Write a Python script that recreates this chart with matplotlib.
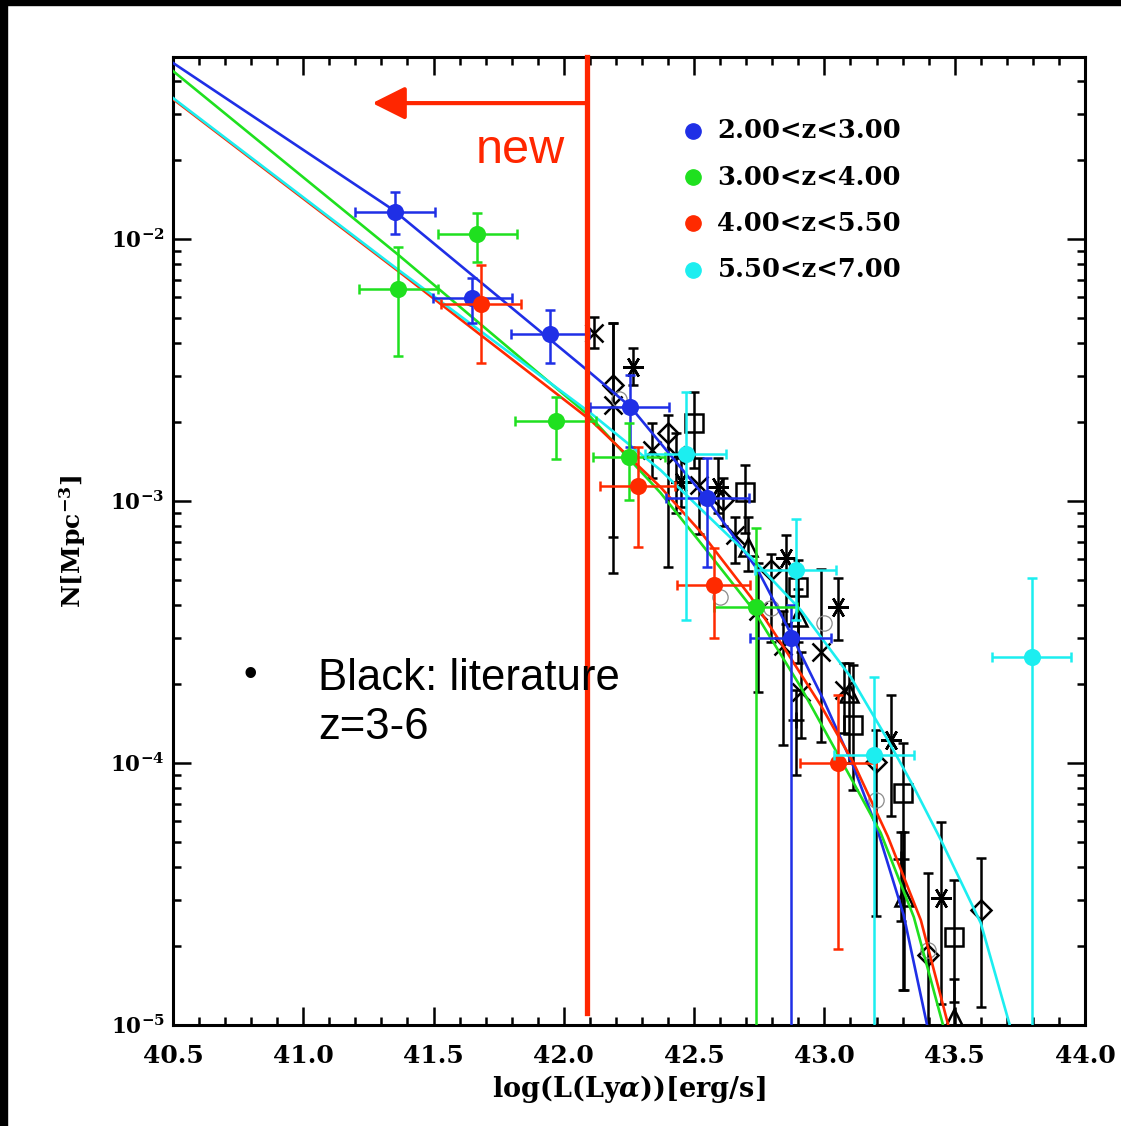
import numpy as np
import matplotlib
matplotlib.use("Agg")
import matplotlib.pyplot as plt
from matplotlib.patches import Rectangle
from matplotlib.ticker import FixedLocator, LogLocator, NullFormatter, FuncFormatter

plt.rcParams['font.family'] = ['DejaVu Serif']
plt.rcParams['font.weight'] = 'bold'
plt.rcParams['mathtext.fontset'] = 'custom'
plt.rcParams['mathtext.rm'] = 'DejaVu Serif:bold'
plt.rcParams['mathtext.it'] = 'DejaVu Serif:italic:bold'
plt.rcParams['mathtext.bf'] = 'DejaVu Serif:bold'

# ---- redshift bins (legend) ----
bin_labels = ['2.00<z<3.00', '3.00<z<4.00', '4.00<z<5.50', '5.50<z<7.00']
bin_colors = ['#1f2fe6', '#1fe01f', '#ff2a00', '#1ceef0']

# ---- new measurements per bin: log L, N, half width in log L, N low, N high ----
blue_x = [41.353, 41.649, 41.948, 42.252, 42.551, 42.870]
blue_n = [0.01267, 0.00596, 0.00433, 0.00229, 0.00103, 0.00030]
blue_xerr = [0.154, 0.152, 0.150, 0.150, 0.160, 0.155]
blue_lo = [0.01045, 0.00478, 0.00336, 0.00161, 0.00056, 1e-6]
blue_hi = [0.0151, 0.0071, 0.00536, 0.00303, 0.00146, 0.00040]

green_x = [41.364, 41.668, 41.968, 42.250, 42.736]
green_n = [0.00644, 0.01045, 0.00202, 0.00147, 0.000394]
green_xerr = [0.152, 0.152, 0.157, 0.140, 0.160]
green_lo = [0.00357, 0.00817, 0.001445, 0.00101, 1e-6]
green_hi = [0.00931, 0.01256, 0.00249, 0.00199, 0.000788]

red_x = [41.683, 42.283, 42.575, 43.051]
red_n = [0.00565, 0.00114, 0.000478, 0.0001]
red_xerr = [0.153, 0.144, 0.140, 0.145]
red_lo = [0.00336, 0.000667, 0.0003, 1.95e-5]
red_hi = [0.00796, 0.00161, 0.000662, 0.000182]

cyan_x = [42.467, 42.890, 43.190, 43.796]
cyan_n = [0.00151, 0.000546, 0.000107, 0.000254]
cyan_xerr = [0.154, 0.155, 0.155, 0.152]
cyan_lo = [0.000351, 0.00035, 1e-6, 1e-6]
cyan_hi = [0.0026, 0.000853, 0.000213, 0.000508]

# ---- fitted luminosity functions (log L, log N) ----
blue_fit_x = [40.50, 41.345, 42.102, 42.256, 42.551, 42.744, 42.870, 42.997, 43.112, 43.205, 43.304, 43.393]
blue_fit_logn = [-1.328, -1.889, -2.511, -2.641, -2.996, -3.263, -3.504, -3.760, -4.015, -4.260, -4.580, -4.996]

green_fit_x = [40.50, 41.364, 42.102, 42.371, 42.525, 42.728, 42.909, 43.112, 43.216, 43.343, 43.454]
green_fit_logn = [-1.359, -2.060, -2.679, -2.969, -3.160, -3.416, -3.710, -4.076, -4.267, -4.588, -4.996]

red_fit_x = [40.50, 41.361, 42.102, 42.371, 42.525, 42.717, 42.843, 42.986, 43.112, 43.243, 43.370, 43.474]
red_fit_logn = [-1.466, -2.120, -2.691, -2.947, -3.118, -3.366, -3.557, -3.780, -4.000, -4.280, -4.600, -4.996]

cyan_fit_x = [40.50, 41.361, 42.102, 42.371, 42.525, 42.717, 42.909, 43.101, 43.243, 43.343, 43.447, 43.600, 43.710]
cyan_fit_logn = [-1.462, -2.115, -2.664, -2.882, -3.030, -3.214, -3.416, -3.672, -3.912, -4.092, -4.294, -4.611, -4.996]

# ---- literature points (black), by symbol: log L, N, N low, N high ----
lit_x_x = [42.114, 42.187, 42.340, 42.429, 42.517, 42.655, 42.744, 42.840, 42.909, 42.986, 43.074]
lit_x_n = [0.00437, 0.00232, 0.00157, 0.00150, 0.00115, 0.00074, 0.00038, 0.00028, 0.000187, 0.000265, 0.00019]
lit_x_lo = [0.00384, 0.000531, 0.00122, 0.00090, 0.00075, 0.00058, 0.000187, 0.000117, 0.000125, 0.00012, 0.00013]
lit_x_hi = [0.00503, 0.00478, 0.00199, 0.00182, 0.00146, 0.00087, 0.00058, 0.00038, 0.000265, 0.00055, 0.00024]

lit_ast_x = [42.267, 42.448, 42.590, 42.851, 43.051, 43.255, 43.447]
lit_ast_n = [0.00325, 0.00118, 0.00113, 0.000606, 0.000394, 0.000122, 3.05e-5]
lit_ast_lo = [0.00277, 0.00095, 0.0009, 0.00034, 0.000294, 6.3e-5, 1.2e-5]
lit_ast_hi = [0.00384, 0.00146, 0.00146, 0.00074, 0.000508, 0.000182, 5.96e-5]

lit_dia_x = [42.190, 42.398, 42.609, 42.794, 43.197, 43.397, 43.600]
lit_dia_n = [0.00277, 0.00182, 0.00101, 0.000546, 0.000101, 1.85e-5, 2.75e-5]
lit_dia_lo = [0.00073, 0.00056, 0.0008, 0.00029, 2.61e-5, 1e-6, 1.17e-5]
lit_dia_hi = [0.00478, 0.00213, 0.00122, 0.00063, 0.000134, 3.8e-5, 4.34e-5]

lit_sq_x = [42.498, 42.697, 42.897, 43.109, 43.301, 43.497]
lit_sq_n = [0.00199, 0.00108, 0.00047, 0.00014, 7.7e-5, 2.17e-5]
lit_sq_lo = [0.00134, 0.000755, 0.00029, 7.9e-5, 1.36e-5, 1.22e-5]
lit_sq_hi = [0.00261, 0.00137, 0.000596, 0.000237, 0.000119, 3.57e-5]

lit_tri_x = [42.705, 42.897, 43.093, 43.304, 43.497]
lit_tri_n = [0.000667, 0.000361, 0.000185, 3.08e-5, 1.06e-5]
lit_tri_lo = [0.00054, 0.00024, 0.0001, 1.36e-5, 1e-6]
lit_tri_hi = [0.00087, 0.00046, 0.00024, 5.45e-5, 1.5e-5]

lit_plus_x = [42.890, 43.293]
lit_plus_n = [0.000146, 4.3e-5]
lit_plus_lo = [9e-5, 2.5e-5]
lit_plus_hi = [0.00019, 5.45e-5]

lit_circ_x = [42.213, 42.601, 42.794, 42.997, 43.197, 43.397]
lit_circ_n = [0.00245, 0.00043, 0.00039, 0.000342, 7.2e-5, 1.93e-5]

# annotation values
new_limit = 42.09
arrow_tip = 41.265
arrow_level = 0.033
x_ticks = [40.5, 41.0, 41.5, 42.0, 42.5, 43.0, 43.5, 44.0]


def draw_points(ax, x, n, lo, hi, color, xerr=None, marker='o', ms=10, mfc=None, zorder=4):
    n = np.array(n)
    yerr = [n - np.array(lo), np.array(hi) - n]
    ax.errorbar(x, n, yerr=yerr, xerr=xerr, fmt='none', ecolor=color,
                elinewidth=1.8, capsize=3.5, capthick=1.8, zorder=zorder)
    ax.plot(x, n, linestyle='none', marker=marker, ms=ms, color=color,
            mfc=color if mfc is None else mfc, mec=color, mew=1.8, zorder=zorder)


fig = plt.figure(figsize=(11.21, 11.26), dpi=100)
ax = fig.add_axes([0.1543, 0.0897, 0.8136, 0.8597])
ax.set_yscale('log')
ax.set_xlim(40.5, 44.0)
ax.set_ylim(1e-5, 0.0495)

# literature
lit_black = 'black'
draw_points(ax, lit_x_x, lit_x_n, lit_x_lo, lit_x_hi, lit_black, marker='x', ms=13, zorder=3)
draw_points(ax, lit_ast_x, lit_ast_n, lit_ast_lo, lit_ast_hi, lit_black, marker=(6, 2, 90), ms=15, zorder=3)
draw_points(ax, lit_dia_x, lit_dia_n, lit_dia_lo, lit_dia_hi, lit_black, marker='D', ms=10, mfc='none', zorder=3)
draw_points(ax, lit_sq_x, lit_sq_n, lit_sq_lo, lit_sq_hi, lit_black, marker='s', ms=13, mfc='none', zorder=3)
draw_points(ax, lit_tri_x, lit_tri_n, lit_tri_lo, lit_tri_hi, lit_black, marker='^', ms=13, mfc='none', zorder=3)
draw_points(ax, lit_plus_x, lit_plus_n, lit_plus_lo, lit_plus_hi, lit_black, marker='+', ms=12, zorder=3)
ax.plot(lit_circ_x, lit_circ_n, 'o', ms=11, mfc='none', mec='#8a8a8a', mew=0.9, zorder=3)

# fits
fits = [(blue_fit_x, blue_fit_logn), (green_fit_x, green_fit_logn),
        (red_fit_x, red_fit_logn), (cyan_fit_x, cyan_fit_logn)]
for (fx, fl), c in zip(fits, bin_colors):
    ax.plot(fx, 10 ** np.array(fl), color=c, lw=1.9, zorder=5)

# new data
series = [(blue_x, blue_n, blue_xerr, blue_lo, blue_hi),
          (green_x, green_n, green_xerr, green_lo, green_hi),
          (red_x, red_n, red_xerr, red_lo, red_hi),
          (cyan_x, cyan_n, cyan_xerr, cyan_lo, cyan_hi)]
for (sx, sn, se, slo, shi), c in zip(series, bin_colors):
    draw_points(ax, sx, sn, slo, shi, c, xerr=se, marker='o', ms=10.5, zorder=6)

# legend
for i, (lab, c) in enumerate(zip(bin_labels, bin_colors)):
    yy = 0.9236 - i * 0.0478
    ax.plot([0.570], [yy], 'o', ms=11, color=c, transform=ax.transAxes, zorder=7)
    ax.text(0.597, yy, lab, transform=ax.transAxes, fontsize=18.5, fontweight='bold',
            va='center', ha='left', zorder=7)

# red "new" marker
red_note = '#ff2600'
ax.plot([new_limit, new_limit], [1.11e-5, 0.0495], color=red_note, lw=3.8, zorder=8, clip_on=False)
ax.annotate('', xy=(arrow_tip, arrow_level), xytext=(new_limit, arrow_level),
            arrowprops=dict(arrowstyle='-|>,head_length=1.0,head_width=0.5', color=red_note,
                            lw=3.0, mutation_scale=20, shrinkA=0, shrinkB=0), zorder=8)
fig.text(0.464, 0.855, 'new', color=red_note, fontsize=35, family='Liberation Sans',
         fontweight='normal', ha='center', va='baseline')

# note on literature points
fig.text(0.223, 0.400, '\u2022', fontsize=28, family='Liberation Sans', fontweight='normal',
         ha='center', va='center')
fig.text(0.2837, 0.3872, 'Black: literature', fontsize=31.5, family='Liberation Sans',
         fontweight='normal', ha='left', va='baseline', zorder=10)
fig.text(0.2837, 0.3437, 'z=3-6', fontsize=31.5, family='Liberation Sans',
         fontweight='normal', ha='left', va='baseline')

# axes styling (IDL look)
ax.xaxis.set_major_locator(FixedLocator(x_ticks))
ax.xaxis.set_minor_locator(FixedLocator(np.arange(40.5, 44.01, 0.1)))
ax.xaxis.set_major_formatter(FuncFormatter(lambda v, p: '%.1f' % v))
ax.yaxis.set_major_locator(LogLocator(base=10, numticks=10))
ax.yaxis.set_minor_locator(LogLocator(base=10, subs=np.arange(2, 10), numticks=20))
ax.yaxis.set_minor_formatter(NullFormatter())
ax.yaxis.set_major_formatter(FuncFormatter(lambda v, p: r'$10^{%d}$' % int(round(np.log10(v)))))
ax.tick_params(which='both', direction='in', top=True, right=True, width=1.8)
ax.tick_params(which='major', length=13)
ax.tick_params(which='minor', length=5.5)
ax.tick_params(axis='x', which='major', labelsize=18, pad=14)
ax.tick_params(axis='y', which='major', labelsize=15.5, pad=6)
for lbl in ax.get_xticklabels() + ax.get_yticklabels():
    lbl.set_fontweight('bold')
for sp in ax.spines.values():
    sp.set_linewidth(2.2)

ax.set_xlabel(r'log(L(Ly$\alpha$))[erg/s]', fontsize=19.5, fontweight='bold', labelpad=3)
ax.set_ylabel(r'N[Mpc$^{-3}$]', fontsize=18, fontweight='bold', labelpad=16)

# black frame strips at the top and left of the slide
fig.patches.append(Rectangle((0, 1 - 5 / 1126), 1, 5 / 1126, transform=fig.transFigure,
                             color='black', zorder=20))
fig.patches.append(Rectangle((0, 0), 7 / 1121, 1, transform=fig.transFigure,
                             color='black', zorder=20))

fig.savefig('out.png', dpi=100)
